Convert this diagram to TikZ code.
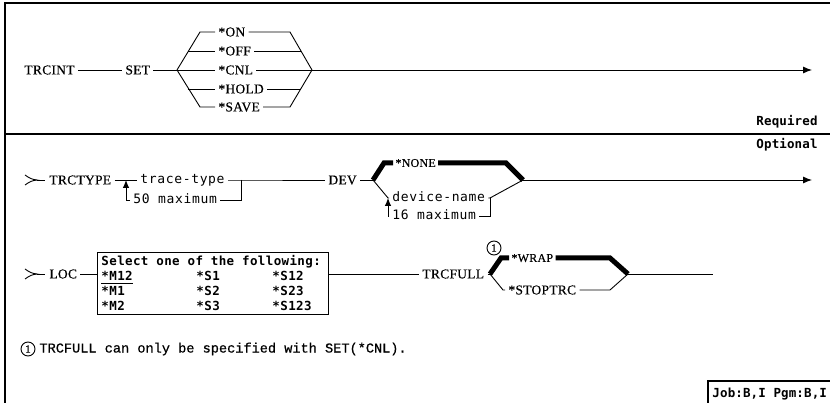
\documentclass[tikz,border=0pt]{standalone}
\usepackage{fontspec}
\setmainfont{Liberation Serif}
\newfontfamily\kwfont[LetterSpace=2,FakeBold=0.4]{Liberation Serif}
\newfontfamily\varfont[LetterSpace=5]{DejaVu Sans Mono}
\newfontfamily\bmono[LetterSpace=3]{DejaVu Sans Mono}
\newfontfamily\bmonob[LetterSpace=1]{DejaVu Sans Mono}
\newfontfamily\notefont[FakeBold=0.6]{Liberation Mono}
\usetikzlibrary{arrows.meta}
\begin{document}
\begin{tikzpicture}[x=1pt,y=-1pt,line width=0.9pt,
  kw/.style={font=\kwfont\fontsize{13.5}{15}\selectfont,inner xsep=3pt,inner ysep=0pt,text height=8.8pt,text depth=0pt,anchor=west},
  kws/.style={kw,font=\kwfont\fontsize{12}{14}\selectfont,inner xsep=2pt,text height=7.9pt},
  var/.style={font=\varfont\fontsize{13}{15}\selectfont,inner xsep=3pt,inner ysep=0pt,text height=6.8pt,text depth=0pt,anchor=west},
  bm/.style={font=\bmono\bfseries\fontsize{12.5}{15}\selectfont,inner xsep=2pt,inner ysep=0pt,text height=8.6pt,text depth=0pt},
  bmb/.style={font=\bmonob\bfseries\fontsize{12.5}{15}\selectfont,inner xsep=2pt,inner ysep=0pt,text height=8.6pt,text depth=0pt},
  dflt/.style={line width=5pt,line join=miter},
  arr/.style={-{Latex[length=9pt,width=7pt]}},
  uparr/.style={-{Latex[length=8pt,width=6.5pt]}},
  cnum/.style={circle,draw,line width=0.9pt,inner sep=0pt,minimum size=14pt,font=\kwfont\fontsize{11}{11}\selectfont},
  chev/.style={line width=0.9pt}
]
\useasboundingbox (0,0) rectangle (830,403);
% frame
\draw[line width=1.1pt] (5,403) -- (5,3) -- (830,3);
\draw[line width=1.1pt] (5,134) -- (830,134);

% ---- Row 1: TRCINT ----
\node[kw] (trcint) at (21,70) {TRCINT};
\node[kw] (set) at (122,70) {SET};
\coordinate (v1l) at (177,70);
\coordinate (v1r) at (312,70);
\coordinate (v1t) at (200,32);
\coordinate (v1b) at (200,107);
\coordinate (v1tr) at (290,32);
\coordinate (v1br) at (290,107);
\coordinate (o2l) at (188,51);
\coordinate (o4l) at (188,89);
\coordinate (o2r) at (301,51);
\coordinate (o4r) at (301,89);
\coordinate (end1) at (812,70);
\node[kw] (on) at (215,32) {*ON};
\node[kw] (off) at (215,51) {*OFF};
\node[kw] (cnl) at (215,70) {*CNL};
\node[kw] (hold) at (215,89) {*HOLD};
\node[kw] (save) at (215,107) {*SAVE};
\draw (trcint) -- (set);
\draw (set) -- (v1l);
\draw (v1l) -- (v1t) -- (on.west);
\draw (v1l) -- (v1b) -- (save.west);
\draw (v1l) -- (cnl.west);
\draw (o2l) -- (off.west);
\draw (o4l) -- (hold.west);
\draw (on.east) -- (v1tr) -- (v1r);
\draw (save.east) -- (v1br) -- (v1r);
\draw (off.east) -- (o2r);
\draw (hold.east) -- (o4r);
\draw (cnl.east) -- (v1r);
\draw[arr] (v1r) -- (end1);

\node[bmb,anchor=east] (req) at (820,121) {Required};
\node[bmb,anchor=east] (opt) at (820,144) {Optional};

% ---- Row 2: TRCTYPE / DEV ----
\coordinate (g2) at (37,180);
\coordinate (g2e) at (45,180);
\draw[chev] (25,175) .. controls (31,179) .. (g2) .. controls (31,181) .. (25,185);
\draw (g2) -- (g2e);
\node[kw] (trctype) at (46,180) {TRCTYPE};
\coordinate (r2a) at (126,180);
\coordinate (r2b) at (126,200);
\coordinate (r2c) at (241,180);
\coordinate (r2d) at (241,200);
\node[var] (tt) at (137,180) {trace-type};
\node[var] (m50) at (130,200) {50 maximum};
\node[kw] (dev) at (325,180) {DEV};
\draw (trctype) -- (tt);
\draw (tt.east) -- (r2c) -- (dev.west);
\draw (r2c) -- (r2d) -- (m50.east);
\draw[uparr] (m50.west) -- (r2b) -- (r2a);

\coordinate (v2l) at (373,180);
\coordinate (v2t) at (384,163);
\coordinate (v2tr) at (506,163);
\coordinate (v2r) at (523,180);
\coordinate (v2b) at (388,198);
\coordinate (v2br) at (490,198);
\coordinate (v2bb) at (490,216);
\coordinate (v2lb) at (388,216);
\coordinate (end2) at (812,180);
\node[kws] (none) at (393,163) {*NONE};
\node[var] (dn) at (389,198) {device-name};
\node[var] (m16) at (389,216) {16 maximum};
\draw (dev) -- (v2l);
\draw[dflt] (v2l) -- (v2t) -- (none.west);
\draw[dflt] (none.east) -- (v2tr) -- (v2r);
\draw (v2l) -- (v2b) -- (dn.west);
\draw (dn.east) -- (v2br) -- (v2r);
\draw (v2br) -- (v2bb) -- (m16.east);
\draw[uparr] (m16.west) -- (v2lb) -- (v2b);
\draw[arr] (v2r) -- (end2);

% ---- Row 3: LOC / TRCFULL ----
\coordinate (g3) at (37,274);
\coordinate (g3e) at (45,274);
\draw[chev] (25,269) .. controls (31,273) .. (g3) .. controls (31,275) .. (25,279);
\draw (g3) -- (g3e);
\node[kw] (loc) at (46,274) {LOC};
\node[draw,line width=1pt,anchor=north west,minimum width=231pt,minimum height=62pt,inner sep=0pt] (box) at (97,252) {};
\node[bm,anchor=west] (hdr) at (99,261) {Select one of the following:};
\node[bm,anchor=west] (m12) at (99,276) {*M12};
\node[bm,anchor=west] (m1) at (99,291) {*M1};
\node[bm,anchor=west] (m2) at (99,306) {*M2};
\node[bm,anchor=west] (s1) at (194,276) {*S1};
\node[bm,anchor=west] (s2) at (194,291) {*S2};
\node[bm,anchor=west] (s3) at (194,306) {*S3};
\node[bm,anchor=west] (s12) at (270,276) {*S12};
\node[bm,anchor=west] (s23) at (270,291) {*S23};
\node[bm,anchor=west] (s123) at (270,306) {*S123};
\draw ([xshift=2pt,yshift=-2.5pt]m12.south west) -- ([xshift=-2pt,yshift=-2.5pt]m12.south east);
\draw (loc.east) -- (loc.east -| box.west);
\node[kw] (trcfull) at (419,274) {TRCFULL};
\draw (loc.east -| box.east) -- (trcfull.west);

\coordinate (v3l) at (490,274);
\coordinate (v3t) at (501,258);
\coordinate (v3tr) at (610,258);
\coordinate (v3r) at (628,274);
\coordinate (v3b) at (503,290);
\coordinate (v3br) at (610,290);
\coordinate (end3) at (713,274);
\node[cnum] (c1) at (494,248) {1};
\node[kws] (wrap) at (509,258) {*WRAP};
\node[kw] (stop) at (505,290) {*STOPTRC};
\draw (trcfull) -- (v3l);
\draw[dflt] (v3l) -- (v3t) -- (wrap.west);
\draw[dflt] (wrap.east) -- (v3tr) -- (v3r);
\draw (v3l) -- (v3b) -- (stop.west);
\draw (stop.east) -- (v3br) -- (v3r);
\draw (v3r) -- (end3);

% ---- footnote ----
\node[cnum] (fn1) at (28,349) {1};
\node[font=\notefont\fontsize{13.6}{15}\selectfont,anchor=west,inner sep=0pt] (fn) at (39,349) {TRCFULL can only be specified with SET(*CNL).};

% ---- Job box ----
\coordinate (jb1) at (708,403);
\coordinate (jb2) at (708,381);
\coordinate (jb3) at (830,381);
\draw[line width=1.1pt] (jb1) -- (jb2) -- (jb3);
\node[bmb,anchor=west] (job) at (710,393) {Job:B,I Pgm:B,I};
\end{tikzpicture}
\end{document}
